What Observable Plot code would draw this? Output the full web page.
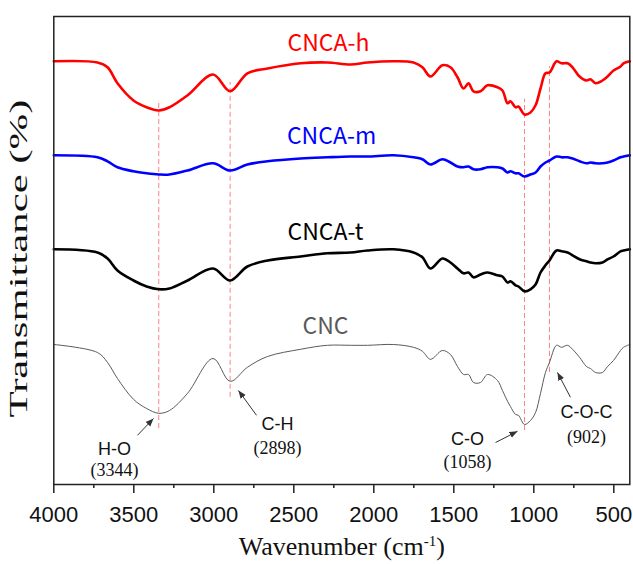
<!DOCTYPE html>
<html><head><meta charset="utf-8">
<script src="https://cdn.jsdelivr.net/npm/d3@7"></script>
<script src="https://cdn.jsdelivr.net/npm/@observablehq/plot@0.6"></script>
<style>body{margin:0;background:#fff} #chart svg{display:block}</style>
</head><body><div id="chart"></div>
<script>
// Wavenumber grid (cm-1) shared by the four spectra
const wavenumbers = [4000,3727,3664,3602,3502,3420,3344,3277,3164,3005,
  2898,2790,2664,2458,2290,2146,2039,1877,1752,1696,
  1646,1571,1521,1477,1439,1408,1377,1333,1289,1227,
  1196,1164,1146,1114,1096,1058,1021,989,958,927,
  902,858,827,789,758,714,671,646,614,571,
  539,502,458,439,400];
// Transmittance (arbitrary, offset) values
const cncaH = [105.8,105.5,104.3,100.3,96,94.3,93.5,94.3,97.3,102.5,
  98.3,102.8,104,105.3,105.5,105,105.5,105.8,105.5,104.3,
  102,104.8,104.3,101.8,99,100.3,98.3,98.3,99.8,99.3,
  98.5,95.3,95.8,94.3,94.5,92.5,93,94.8,99,102.8,
  103,105.8,105.3,105.3,104.3,102,101,101.3,100.3,101,
  102,103.5,104.5,105.3,105.8];
const cncaM = [82.3,81.8,80.8,79.3,78.3,77.8,77.5,77.5,78.5,80.3,
  78.5,80,80.8,81.5,81.8,82,82,82.3,81.8,81.3,
  80,81.3,80.5,79.5,79.3,79.5,78.8,78.8,79.3,79.3,
  79,78,78.3,77.8,77.8,77,77.5,78,79.5,80.5,
  81,82,81.8,81.8,81.5,80.8,80.3,80.5,80.3,80.3,
  80.5,81,81.8,82,82.3];
const cncaT = [58.8,58,56.5,53.5,51,49.5,48.8,49,51,54,
  51,54.5,56,57,57.8,58,58.5,58.8,58,56.8,
  54,56.5,55.5,54,52.8,53,51.8,52.5,53,52.3,
  52,50.5,50.8,49.8,49.5,48.3,48.8,50,53,54.8,
  56,58.5,58.3,58,57.3,56.3,55.8,55.5,55.3,55.5,
  56.3,57,58.3,58.5,58.8];
const cnc = [35,33,30.5,26.5,21.3,19,17.8,18.5,22.8,31.5,
  25.8,29.3,32,33.8,34.8,34.8,34.8,35,34.3,33.3,
  31.3,33.5,32.5,29.5,27.5,27.5,25.5,25.5,27.5,26,
  23.5,20.8,19.5,17.5,17.3,15,16,18,22.8,28,
  30.5,34.8,34.3,34.8,33.8,31.8,29.5,29,28,28,
  29.5,31,33.5,34.3,35];

const seriesNames = ["CNCA-h","CNCA-m","CNCA-t","CNC"];
const seriesColors = ["#ff0000","#0000ff","#000000","#5a5a5a"];
const seriesLabelX = [2283,2264,2302,2302];
const seriesLabelY = [110.1,87,62.9,39.4];

const peakWavenumbers = [3344,2898,1058,902];
const peakTop = [96,100.5,96.3,104.5];
const peakBottom = [14,21.8,13.5,28];
const bondLabels = ["H-O","C-H","C-O","C-O-C"];
const peakLabels = ["(3344)","(2898)","(1058)","(902)"];
const bondLabelX = [3621,2602,1414,671];
const bondLabelY = [8.9,15,11.4,18.1];
const peakLabelY = [3.6,9.1,5.6,11.9];
const arrowFromX = [3477,2733,1239,771];
const arrowFromY = [12.3,17.3,10.5,21.8];
const arrowToX = [3377,2846,1102,852];
const arrowToY = [16.5,23.5,13.3,28];

const majorTicks = [4000,3500,3000,2500,2000,1500,1000,500];
const minorTicks = [3750,3250,2750,2250,1750,1250,750];

const seriesValues = [cncaH, cncaM, cncaT, cnc];
const seriesWidths = [2.6,2.6,2.6,1];

function filledArrow(color, context) {
  const ns = "http://www.w3.org/2000/svg";
  const doc = (context && context.document) || document;
  const m = doc.createElementNS(ns, "marker");
  m.setAttribute("viewBox", "-8 -4 9 8");
  m.setAttribute("markerWidth", 9);
  m.setAttribute("markerHeight", 8);
  m.setAttribute("orient", "auto");
  const p = doc.createElementNS(ns, "path");
  p.setAttribute("d", "M-8,-3.2L0,0L-8,3.2Z");
  p.setAttribute("fill", color);
  p.setAttribute("stroke", "none");
  m.appendChild(p);
  return m;
}

const sans = "'Liberation Sans', Arial, sans-serif";
const serif = "'Liberation Serif', 'Times New Roman', serif";
const cjk = "'Noto Sans CJK SC', 'Liberation Sans', sans-serif";

const marks = [
  Plot.ruleX(peakWavenumbers, {x: d => d, y1: peakBottom, y2: peakTop, stroke: "#ff8080", strokeWidth: 1, strokeDasharray: "5,3"}),
  ...seriesValues.map((vals, i) => Plot.line(vals, {x: wavenumbers, y: d => d, stroke: seriesColors[i], strokeWidth: seriesWidths[i], curve: "catmull-rom"})),
  Plot.text(seriesNames, {x: seriesLabelX, y: seriesLabelY, text: d => d, fill: (d, i) => seriesColors[i], fontSize: 23, fontFamily: cjk, textAnchor: "middle", lineAnchor: "middle"}),
  Plot.link(bondLabels, {x1: arrowFromX, y1: arrowFromY, x2: arrowToX, y2: arrowToY, stroke: "#333", strokeWidth: 1, markerEnd: filledArrow}),
  Plot.text(bondLabels, {x: bondLabelX, y: bondLabelY, text: d => d, fontSize: 18, fontFamily: sans, fill: "#111", textAnchor: "middle", lineAnchor: "middle"}),
  Plot.text(peakLabels, {x: bondLabelX, y: peakLabelY, text: d => d, fontSize: 18, fontFamily: serif, fill: "#111", textAnchor: "middle", lineAnchor: "middle"}),
  Plot.frame({stroke: "#222", strokeWidth: 1.5}),
  Plot.axisX(majorTicks, {tickSize: 9, tickPadding: 13, tickFormat: d => String(d), fontSize: 22, fontFamily: sans, label: null, strokeWidth: 1.5, stroke: "#222"}),
  Plot.axisX(minorTicks, {tickSize: 4, tickFormat: () => "", label: null, strokeWidth: 1.5, stroke: "#222"}),
  Plot.text(["Wavenumber (cm-1)"], {frameAnchor: "bottom", dy: 62, text: d => d, fontSize: 26, fontFamily: serif, fill: "#111", textAnchor: "middle", lineAnchor: "middle"}),
  Plot.text(["Transmittance (%)"], {frameAnchor: "left", dx: -35, dy: 8, rotate: -90, text: d => d, fontSize: 26, fontFamily: serif, fill: "#111", textAnchor: "middle", lineAnchor: "middle"})
];

const chart = Plot.plot({
  width: 633, height: 564,
  marginLeft: 53.3, marginRight: 3.7, marginTop: 16, marginBottom: 80,
  x: {domain: [4000, 400]},
  y: {domain: [0, 117], axis: null},
  style: {background: "#fff", color: "#111", fontFamily: sans, overflow: "visible"},
  marks
});
document.getElementById("chart").appendChild(chart);

// superscript for cm-1
d3.select(chart).selectAll("text").filter(function(){ return this.textContent === "Wavenumber (cm-1)"; })
  .each(function(){
    const t = d3.select(this);
    t.text(null);
    t.append("tspan").text("Wavenumber (cm");
    t.append("tspan").attr("font-size", 15).attr("dy", -9).text("-1");
    t.append("tspan").attr("dy", 9).text(")");
  });
// the reference's y title is stretched along its length
d3.select(chart).selectAll("text").filter(function(){ return this.textContent === "Transmittance (%)"; })
  .attr("textLength", 318).attr("lengthAdjust", "spacingAndGlyphs");
</script>
</body></html>
